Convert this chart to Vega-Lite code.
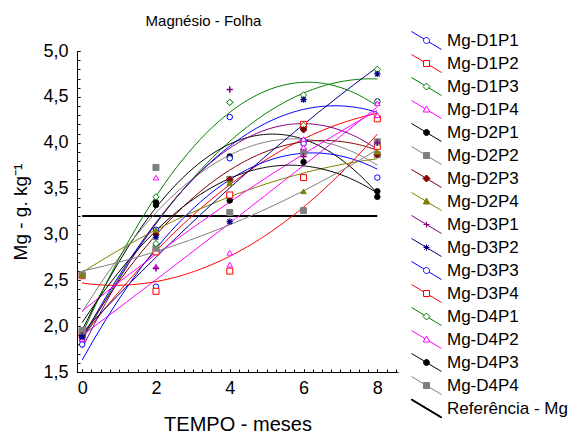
{
  "$schema": "https://vega.github.io/schema/vega-lite/v6.json",
  "width": 321,
  "height": 321,
  "autosize": "none",
  "padding": {"left": 77, "top": 51, "right": 181, "bottom": 62},
  "background": "white",
  "config": {
    "font": "Liberation Sans",
    "view": {"stroke": null},
    "legend": {"labelFontSize": 17, "labelColor": "black", "symbolSize": 100, "symbolStrokeWidth": 1, "labelOffset": 12, "rowPadding": 0, "padding": 0, "symbolOpacity": 1, "labelLimit": 300}
  },
  "title": {"text": "Magnésio - Folha", "fontSize": 15, "fontWeight": "normal", "color": "black", "frame": "group", "anchor": "middle", "dx": -34, "offset": 3},
  "resolve": {"axis": {"x": "independent", "y": "independent"}},
  "datasets": {
    "pontos": [
      {"serie": "Mg-D1P1", "t": 0, "v": 1.85}, {"serie": "Mg-D1P1", "t": 2, "v": 3.05}, {"serie": "Mg-D1P1", "t": 4, "v": 4.28}, {"serie": "Mg-D1P1", "t": 6, "v": 4.02}, {"serie": "Mg-D1P1", "t": 8, "v": 4.45},
      {"serie": "Mg-D1P2", "t": 0, "v": 1.90}, {"serie": "Mg-D1P2", "t": 2, "v": 2.81}, {"serie": "Mg-D1P2", "t": 4, "v": 3.43}, {"serie": "Mg-D1P2", "t": 6, "v": 4.20}, {"serie": "Mg-D1P2", "t": 8, "v": 4.26},
      {"serie": "Mg-D1P3", "t": 0, "v": 1.88}, {"serie": "Mg-D1P3", "t": 2, "v": 2.90}, {"serie": "Mg-D1P3", "t": 4, "v": 4.44}, {"serie": "Mg-D1P3", "t": 6, "v": 4.19}, {"serie": "Mg-D1P3", "t": 8, "v": 4.80},
      {"serie": "Mg-D1P4", "t": 0, "v": 1.88}, {"serie": "Mg-D1P4", "t": 2, "v": 2.65}, {"serie": "Mg-D1P4", "t": 4, "v": 2.80}, {"serie": "Mg-D1P4", "t": 6, "v": 4.04}, {"serie": "Mg-D1P4", "t": 8, "v": 4.30},
      {"serie": "Mg-D2P1", "t": 0, "v": 1.95}, {"serie": "Mg-D2P1", "t": 2, "v": 3.35}, {"serie": "Mg-D2P1", "t": 4, "v": 3.85}, {"serie": "Mg-D2P1", "t": 6, "v": 4.16}, {"serie": "Mg-D2P1", "t": 8, "v": 3.41},
      {"serie": "Mg-D2P2", "t": 0, "v": 1.95}, {"serie": "Mg-D2P2", "t": 2, "v": 3.73}, {"serie": "Mg-D2P2", "t": 4, "v": 3.60}, {"serie": "Mg-D2P2", "t": 6, "v": 3.90}, {"serie": "Mg-D2P2", "t": 8, "v": 3.87},
      {"serie": "Mg-D2P3", "t": 0, "v": 1.90}, {"serie": "Mg-D2P3", "t": 2, "v": 3.00}, {"serie": "Mg-D2P3", "t": 4, "v": 3.60}, {"serie": "Mg-D2P3", "t": 6, "v": 4.14}, {"serie": "Mg-D2P3", "t": 8, "v": 3.87},
      {"serie": "Mg-D2P4", "t": 0, "v": 2.56}, {"serie": "Mg-D2P4", "t": 2, "v": 3.05}, {"serie": "Mg-D2P4", "t": 4, "v": 3.56}, {"serie": "Mg-D2P4", "t": 6, "v": 3.47}, {"serie": "Mg-D2P4", "t": 8, "v": 3.90},
      {"serie": "Mg-D3P1", "t": 0, "v": 1.90}, {"serie": "Mg-D3P1", "t": 2, "v": 2.63}, {"serie": "Mg-D3P1", "t": 4, "v": 4.58}, {"serie": "Mg-D3P1", "t": 6, "v": 3.85}, {"serie": "Mg-D3P1", "t": 8, "v": 4.00},
      {"serie": "Mg-D3P2", "t": 0, "v": 1.88}, {"serie": "Mg-D3P2", "t": 2, "v": 2.97}, {"serie": "Mg-D3P2", "t": 4, "v": 3.14}, {"serie": "Mg-D3P2", "t": 6, "v": 4.47}, {"serie": "Mg-D3P2", "t": 8, "v": 4.75},
      {"serie": "Mg-D3P3", "t": 0, "v": 1.80}, {"serie": "Mg-D3P3", "t": 2, "v": 2.43}, {"serie": "Mg-D3P3", "t": 4, "v": 3.83}, {"serie": "Mg-D3P3", "t": 6, "v": 3.99}, {"serie": "Mg-D3P3", "t": 8, "v": 3.62},
      {"serie": "Mg-D3P4", "t": 0, "v": 2.55}, {"serie": "Mg-D3P4", "t": 2, "v": 2.38}, {"serie": "Mg-D3P4", "t": 4, "v": 2.60}, {"serie": "Mg-D3P4", "t": 6, "v": 3.62}, {"serie": "Mg-D3P4", "t": 8, "v": 3.96},
      {"serie": "Mg-D4P1", "t": 0, "v": 1.90}, {"serie": "Mg-D4P1", "t": 2, "v": 3.41}, {"serie": "Mg-D4P1", "t": 4, "v": 4.44}, {"serie": "Mg-D4P1", "t": 6, "v": 4.52}, {"serie": "Mg-D4P1", "t": 8, "v": 4.45},
      {"serie": "Mg-D4P2", "t": 0, "v": 1.86}, {"serie": "Mg-D4P2", "t": 2, "v": 3.62}, {"serie": "Mg-D4P2", "t": 4, "v": 2.67}, {"serie": "Mg-D4P2", "t": 6, "v": 3.95}, {"serie": "Mg-D4P2", "t": 8, "v": 4.43},
      {"serie": "Mg-D4P3", "t": 0, "v": 1.94}, {"serie": "Mg-D4P3", "t": 2, "v": 3.32}, {"serie": "Mg-D4P3", "t": 4, "v": 3.37}, {"serie": "Mg-D4P3", "t": 6, "v": 3.79}, {"serie": "Mg-D4P3", "t": 8, "v": 3.47},
      {"serie": "Mg-D4P4", "t": 0, "v": 2.56}, {"serie": "Mg-D4P4", "t": 2, "v": 2.85}, {"serie": "Mg-D4P4", "t": 4, "v": 3.24}, {"serie": "Mg-D4P4", "t": 6, "v": 3.26}, {"serie": "Mg-D4P4", "t": 8, "v": 4.01}
    ],
    "referencia": [
      {"serie": "Referência - Mg", "v": 3.2, "t_ini": 0, "t_fim": 8}
    ]
  },
  "layer": [
    {
      "data": {"name": "pontos"},
      "transform": [{"filter": "false"}],
      "mark": {"type": "point", "opacity": 1, "strokeWidth": 1},
      "encoding": {
        "x": {"field": "t", "type": "quantitative",
          "scale": {"domain": [-0.14, 8.56], "nice": false, "zero": false},
          "axis": {"orient": "bottom", "values": [0, 2, 4, 6, 8], "format": "d",
            "title": "TEMPO - meses", "titleFontSize": 20, "titleFontWeight": "normal", "titleColor": "black", "titlePadding": 17,
            "labelFontSize": 18, "labelColor": "black", "labelPadding": 10, "labelOverlap": false, "labelFlush": false,
            "tickSize": -3, "tickColor": "black", "domainColor": "black", "grid": false}},
        "y": {"field": "v", "type": "quantitative",
          "scale": {"domain": [1.5, 5.0], "nice": false, "zero": false},
          "axis": {"orient": "left", "values": [1.5, 2, 2.5, 3, 3.5, 4, 4.5, 5],
            "labelExpr": "replace(format(datum.value, '.1f'), '.', ',')",
            "title": "Mg - g. kg⁻¹", "titleFontSize": 19, "titleFontWeight": "normal", "titleColor": "black", "titlePadding": 12,
            "labelFontSize": 18, "labelColor": "black", "labelPadding": 12, "labelOverlap": false, "labelFlush": false,
            "tickSize": -3, "tickColor": "black", "domainColor": "black", "grid": false}},
        "stroke": {"field": "serie", "type": "nominal",
          "scale": {"domain": ["Mg-D1P1","Mg-D1P2","Mg-D1P3","Mg-D1P4","Mg-D2P1","Mg-D2P2","Mg-D2P3","Mg-D2P4","Mg-D3P1","Mg-D3P2","Mg-D3P3","Mg-D3P4","Mg-D4P1","Mg-D4P2","Mg-D4P3","Mg-D4P4","Referência - Mg"],
            "range": ["#0000FF","#FF0000","#008000","#FF00FF","#000000","#808080","#800000","#808000","#800080","#000080","#0000FF","#FF0000","#008000","#FF00FF","#000000","#808080","#000000"]},
          "legend": {"title": null, "orient": "none", "legendX": 341, "legendY": -19}},
        "fill": {"field": "serie", "type": "nominal",
          "scale": {"domain": ["Mg-D1P1","Mg-D1P2","Mg-D1P3","Mg-D1P4","Mg-D2P1","Mg-D2P2","Mg-D2P3","Mg-D2P4","Mg-D3P1","Mg-D3P2","Mg-D3P3","Mg-D3P4","Mg-D4P1","Mg-D4P2","Mg-D4P3","Mg-D4P4","Referência - Mg"],
            "range": ["#FFFFFF","#FFFFFF","#FFFFFF","#FFFFFF","#000000","#808080","#800000","#808000","#800080","#000080","#FFFFFF","#FFFFFF","#FFFFFF","#FFFFFF","#000000","#808080","#000000"]},
          "legend": {"title": null, "orient": "none", "legendX": 341, "legendY": -19}},
        "shape": {"field": "serie", "type": "nominal",
          "scale": {"domain": ["Mg-D1P1","Mg-D1P2","Mg-D1P3","Mg-D1P4","Mg-D2P1","Mg-D2P2","Mg-D2P3","Mg-D2P4","Mg-D3P1","Mg-D3P2","Mg-D3P3","Mg-D3P4","Mg-D4P1","Mg-D4P2","Mg-D4P3","Mg-D4P4","Referência - Mg"],
            "range": [
              "M-3,-1.8L-0.51,-0.31M0.51,0.31L3,1.8M0.6,0A0.6,0.6,0,1,1,-0.6,0A0.6,0.6,0,1,1,0.6,0Z",
              "M-3,-1.8L-0.6,-0.36M0.6,0.36L3,1.8M-0.6,-0.6L0.6,-0.6L0.6,0.6L-0.6,0.6Z",
              "M-3,-1.8L-0.44,-0.26M0.44,0.26L3,1.8M0,-0.7L0.7,0L0,0.7L-0.7,0Z",
              "M-3,-1.8L-0.29,-0.17M0.56,0.34L3,1.8M0,-0.7L0.65,0.5L-0.65,0.5Z",
              "M-3,-1.8L-0.51,-0.31M0.51,0.31L3,1.8M0.6,0A0.6,0.6,0,1,1,-0.6,0A0.6,0.6,0,1,1,0.6,0Z",
              "M-3,-1.8L-0.6,-0.36M0.6,0.36L3,1.8M-0.6,-0.6L0.6,-0.6L0.6,0.6L-0.6,0.6Z",
              "M-3,-1.8L-0.44,-0.26M0.44,0.26L3,1.8M0,-0.7L0.7,0L0,0.7L-0.7,0Z",
              "M-3,-1.8L-0.29,-0.17M0.56,0.34L3,1.8M0,-0.7L0.65,0.5L-0.65,0.5Z",
              "M-3,-1.8L3,1.8M-0.6,0L0.6,0M0,-0.6L0,0.6",
              "M-3,-1.8L3,1.8M-0.6,0L0.6,0M0,-0.6L0,0.6M-0.45,-0.45L0.45,0.45M-0.45,0.45L0.45,-0.45",
              "M-3,-1.8L-0.51,-0.31M0.51,0.31L3,1.8M0.6,0A0.6,0.6,0,1,1,-0.6,0A0.6,0.6,0,1,1,0.6,0Z",
              "M-3,-1.8L-0.6,-0.36M0.6,0.36L3,1.8M-0.6,-0.6L0.6,-0.6L0.6,0.6L-0.6,0.6Z",
              "M-3,-1.8L-0.44,-0.26M0.44,0.26L3,1.8M0,-0.7L0.7,0L0,0.7L-0.7,0Z",
              "M-3,-1.8L-0.29,-0.17M0.56,0.34L3,1.8M0,-0.7L0.65,0.5L-0.65,0.5Z",
              "M-3,-1.8L-0.51,-0.31M0.51,0.31L3,1.8M0.6,0A0.6,0.6,0,1,1,-0.6,0A0.6,0.6,0,1,1,0.6,0Z",
              "M-3,-1.8L-0.6,-0.36M0.6,0.36L3,1.8M-0.6,-0.6L0.6,-0.6L0.6,0.6L-0.6,0.6Z",
              "M-3.05,-1.71L2.95,1.89L3.05,1.71L-2.95,-1.89Z"
            ]},
          "legend": {"title": null, "orient": "none", "legendX": 341, "legendY": -19}}
      }
    },
    {
      "data": {"name": "referencia"},
      "mark": {"type": "rule", "strokeWidth": 2},
      "encoding": {
        "x": {"field": "t_ini", "type": "quantitative",
          "axis": {"orient": "bottom", "values": [0,0.25,0.5,0.75,1,1.25,1.5,1.75,2,2.25,2.5,2.75,3,3.25,3.5,3.75,4,4.25,4.5,4.75,5,5.25,5.5,5.75,6,6.25,6.5,6.75,7,7.25,7.5,7.75,8,8.25,8.5],
            "labels": false, "domain": false, "title": null, "tickSize": -3, "tickColor": "black", "grid": false}},
        "x2": {"field": "t_fim"},
        "y": {"field": "v", "type": "quantitative",
          "axis": {"orient": "left", "values": [1.5,1.6,1.7,1.8,1.9,2,2.1,2.2,2.3,2.4,2.5,2.6,2.7,2.8,2.9,3,3.1,3.2,3.3,3.4,3.5,3.6,3.7,3.8,3.9,4,4.1,4.2,4.3,4.4,4.5,4.6,4.7,4.8,4.9,5],
            "labels": false, "domain": false, "title": null, "tickSize": -3, "tickColor": "black", "grid": false}},
        "stroke": {"field": "serie", "type": "nominal"}
      }
    },
    {
      "data": {"name": "pontos"},
      "transform": [{"regression": "v", "on": "t", "groupby": ["serie"], "method": "poly", "order": 2}],
      "mark": {"type": "line", "strokeWidth": 1},
      "encoding": {
        "x": {"field": "t", "type": "quantitative", "axis": null},
        "y": {"field": "v", "type": "quantitative", "axis": null},
        "stroke": {"field": "serie", "type": "nominal"}
      }
    },
    {
      "data": {"name": "pontos"},
      "transform": [{"filter": {"field": "serie", "oneOf": ["Mg-D1P1", "Mg-D2P1", "Mg-D3P3", "Mg-D4P3"]}}],
      "mark": {"type": "point", "shape": "circle", "size": 30, "opacity": 1, "strokeWidth": 1},
      "encoding": {
        "x": {"field": "t", "type": "quantitative", "axis": null},
        "y": {"field": "v", "type": "quantitative", "axis": null},
        "stroke": {"field": "serie", "type": "nominal"},
        "fill": {"field": "serie", "type": "nominal"}
      }
    },
    {
      "data": {"name": "pontos"},
      "transform": [{"filter": {"field": "serie", "oneOf": ["Mg-D1P2", "Mg-D3P4", "Mg-D2P2", "Mg-D4P4"]}}],
      "mark": {"type": "point", "shape": "square", "size": 36, "opacity": 1, "strokeWidth": 1},
      "encoding": {
        "x": {"field": "t", "type": "quantitative", "axis": null},
        "y": {"field": "v", "type": "quantitative", "axis": null},
        "stroke": {"field": "serie", "type": "nominal"},
        "fill": {"field": "serie", "type": "nominal"}
      }
    },
    {
      "data": {"name": "pontos"},
      "transform": [{"filter": {"field": "serie", "oneOf": ["Mg-D1P3", "Mg-D2P3", "Mg-D4P1"]}}],
      "mark": {"type": "point", "shape": "diamond", "size": 40, "opacity": 1, "strokeWidth": 1},
      "encoding": {
        "x": {"field": "t", "type": "quantitative", "axis": null},
        "y": {"field": "v", "type": "quantitative", "axis": null},
        "stroke": {"field": "serie", "type": "nominal"},
        "fill": {"field": "serie", "type": "nominal"}
      }
    },
    {
      "data": {"name": "pontos"},
      "transform": [{"filter": {"field": "serie", "oneOf": ["Mg-D1P4", "Mg-D2P4", "Mg-D4P2"]}}],
      "mark": {"type": "point", "shape": "triangle-up", "size": 30, "opacity": 1, "strokeWidth": 1},
      "encoding": {
        "x": {"field": "t", "type": "quantitative", "axis": null},
        "y": {"field": "v", "type": "quantitative", "axis": null},
        "stroke": {"field": "serie", "type": "nominal"},
        "fill": {"field": "serie", "type": "nominal"}
      }
    },
    {
      "data": {"name": "pontos"},
      "transform": [{"filter": {"field": "serie", "equal": "Mg-D3P1"}}],
      "mark": {"type": "point", "shape": "M-1,0L1,0M0,-1L0,1", "size": 40, "opacity": 1, "strokeWidth": 1.5},
      "encoding": {
        "x": {"field": "t", "type": "quantitative", "axis": null},
        "y": {"field": "v", "type": "quantitative", "axis": null},
        "stroke": {"field": "serie", "type": "nominal"}
      }
    },
    {
      "data": {"name": "pontos"},
      "transform": [{"filter": {"field": "serie", "equal": "Mg-D3P2"}}],
      "mark": {"type": "point", "shape": "M-1,0L1,0M0,-1L0,1M-0.75,-0.75L0.75,0.75M-0.75,0.75L0.75,-0.75", "size": 40, "opacity": 1, "strokeWidth": 1.2},
      "encoding": {
        "x": {"field": "t", "type": "quantitative", "axis": null},
        "y": {"field": "v", "type": "quantitative", "axis": null},
        "stroke": {"field": "serie", "type": "nominal"}
      }
    }
  ]
}
